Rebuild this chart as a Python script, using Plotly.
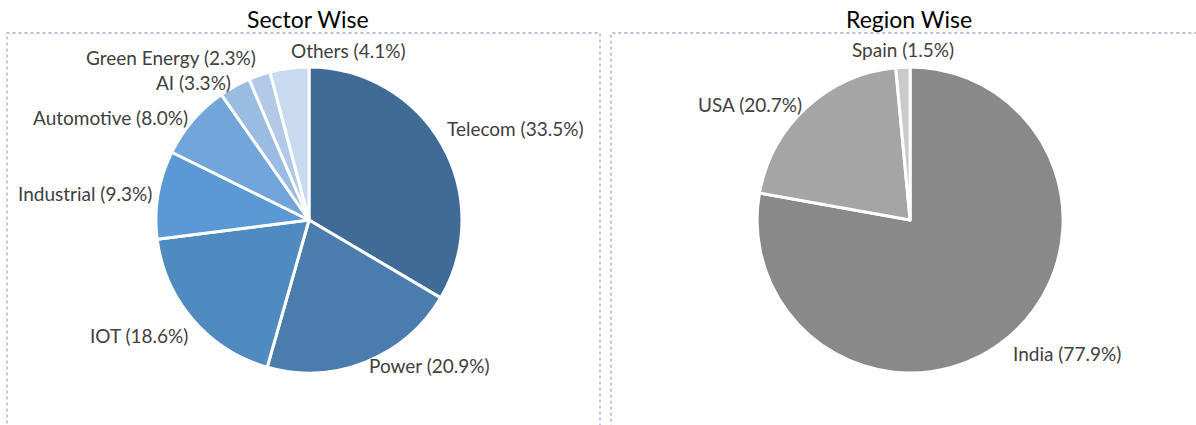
import math
import plotly.graph_objects as go

sector_labels = ["Telecom", "Power", "IOT", "Industrial", "Automotive", "AI", "Green Energy", "Others"]
sector_values = [33.5, 20.9, 18.6, 9.3, 8.0, 3.3, 2.3, 4.1]
sector_colors = ["#3F6B96", "#4A7DAD", "#4F8BC0", "#5A99D3", "#72A6DA", "#9ABBE2", "#B2C9E7", "#C9D9EF"]
# label anchoring style (which side of the label touches the slice)
sector_xanchor = ["left", "left", "right", "right", "right", "right", "right", "left"]
sector_yanchor = ["bottom", "middle", "top", "middle", "middle", "middle", "bottom", "bottom"]

region_labels = ["India", "USA", "Spain"]
region_values = [77.9, 20.7, 1.5]
region_colors = ["#898989", "#A5A5A5", "#CACACA"]
region_xanchor = ["left", "right", "center"]
region_yanchor = ["top", "middle", "bottom"]

W, H = 1196, 425
FONT = "Lato"
LABEL_FONT = dict(family=FONT, size=19, color="#404040")
PIE_Y = [(H - 373) / H, (H - 67) / H]

fig = go.Figure()


def add_pie(labels, values, colors, xdom, xanchors, yanchors):
    fig.add_trace(go.Pie(
        labels=labels, values=values, sort=False, direction="clockwise", rotation=0,
        textinfo="none", marker=dict(colors=colors, line=dict(color="white", width=3)),
        domain=dict(x=xdom, y=PIE_Y), showlegend=False, hoverinfo="label+percent",
    ))
    # pie geometry in paper units (pie fills the smaller side of its domain)
    cx = (xdom[0] + xdom[1]) / 2 * W
    cy = (PIE_Y[0] + PIE_Y[1]) / 2 * H
    r = min((xdom[1] - xdom[0]) * W, (PIE_Y[1] - PIE_Y[0]) * H) / 2
    R = r + 4
    total = sum(values)
    cum = 0.0
    for lab, v, xa, ya in zip(labels, values, xanchors, yanchors):
        mid = (cum + v / 2) / total * 2 * math.pi
        cum += v
        px = cx + R * math.sin(mid)
        py = cy + R * math.cos(mid)
        fig.add_annotation(text=f"{lab} ({v:.1f}%)", xref="paper", yref="paper",
                           x=px / W, y=py / H, xanchor=xa, yanchor=ya, showarrow=False,
                           font=LABEL_FONT)


add_pie(sector_labels, sector_values, sector_colors, [0.06, 0.4567], sector_xanchor, sector_yanchor)
add_pie(region_labels, region_values, region_colors, [0.5622, 0.9597], region_xanchor, region_yanchor)

border = dict(color="#A3ABC9", width=1.3, dash="dot")
fig.add_shape(type="rect", xref="paper", yref="paper", x0=7 / W, x1=600 / W, y0=-0.02, y1=(H - 33) / H, line=border)
fig.add_shape(type="rect", xref="paper", yref="paper", x0=611 / W, x1=1.02, y0=-0.02, y1=(H - 33) / H, line=border)

fig.add_annotation(text="Sector Wise", xref="paper", yref="paper", x=308 / W, y=(H - 19) / H,
                   xanchor="center", yanchor="middle", showarrow=False,
                   font=dict(family=FONT, size=23, color="#000000"))
fig.add_annotation(text="Region Wise", xref="paper", yref="paper", x=909 / W, y=(H - 19) / H,
                   xanchor="center", yanchor="middle", showarrow=False,
                   font=dict(family=FONT, size=23, color="#000000"))

fig.update_layout(width=W, height=H, margin=dict(l=0, r=0, t=0, b=0, autoexpand=False),
                  paper_bgcolor="white", plot_bgcolor="white")
fig.write_html("out.html")
